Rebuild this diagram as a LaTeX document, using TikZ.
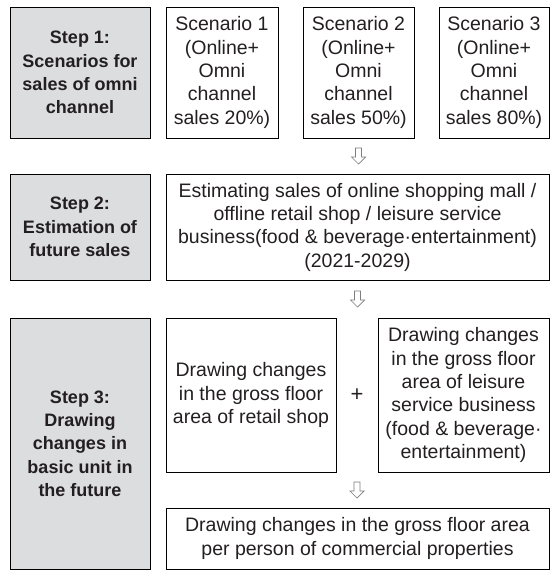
\documentclass[tikz,border=0pt]{standalone}
\usepackage{fontspec}
\setmainfont{Liberation Sans}
\usetikzlibrary{calc}
\definecolor{stepgray}{RGB}{220,221,223}
\definecolor{txt}{RGB}{35,31,32}
\definecolor{arrgray}{RGB}{125,125,125}
\begin{document}
\begin{tikzpicture}[x=1pt,y=-1pt,
  box/.style={draw=black, line width=0.8pt, align=center, inner sep=0pt, text=txt,
    font=\fontsize{19.5}{23.3}\selectfont},
  stepbox/.style={box, fill=stepgray, font=\bfseries\fontsize{18}{23.3}\selectfont},
  darr/.pic={\draw[arrgray, line width=0.7pt, fill=white]
     (-3,-8) -- (3,-8) -- (3,1) -- (7,1) -- (0,8) -- (-7,1) -- (-3,1) -- cycle;}]
\useasboundingbox (0,0) rectangle (559,581);

\node[stepbox, minimum width=140pt, minimum height=131pt] (step1) at (80,72.5)
  {Step 1:\\Scenarios for\\sales of omni\\channel};
\node[box, minimum width=112pt, minimum height=131pt] (s1) at (222,72.5)
  {Scenario 1\\(Online+\\Omni\\channel\\sales 20\%)};
\node[box, minimum width=111pt, minimum height=131pt] (s2) at (358.5,72.5)
  {Scenario 2\\(Online+\\Omni\\channel\\sales 50\%)};
\node[box, minimum width=110pt, minimum height=131pt] (s3) at (494,72.5)
  {Scenario 3\\(Online+\\Omni\\channel\\sales 80\%)};

\node[stepbox, minimum width=140pt, minimum height=106pt] (step2) at (80,227)
  {Step 2:\\Estimation of\\future sales};
\node[box, minimum width=383pt, minimum height=106pt] (est) at (357.5,227)
  {Estimating sales of online shopping mall /\\offline retail shop / leisure service\\business(food \& beverage·entertainment)\\(2021-2029)};

\node[stepbox, minimum width=140pt, minimum height=251pt] (step3) at (80,443.5)
  {Step 3:\\Drawing\\changes in\\basic unit in\\the future};
\node[box, minimum width=170pt, minimum height=154pt] (retail) at (251,395)
  {Drawing changes\\in the gross floor\\area of retail shop};
\node[box, minimum width=171pt, minimum height=154pt] (leisure) at (463.5,395)
  {Drawing changes\\in the gross floor\\area of leisure\\service business\\(food \& beverage·\\entertainment)};
\node[text=txt, font=\fontsize{22}{24}\selectfont, inner sep=0pt] (plus) at ($(retail.east)!0.5!(leisure.west)$) {+};

\node[box, minimum width=383pt, minimum height=61pt] (final) at (357.5,538.5)
  {Drawing changes in the gross floor area\\per person of commercial properties};

\coordinate (a1) at ($(s2.south)!0.5!(s2.south |- est.north)$);
\coordinate (a2) at ($(est.south)!0.5!(est.south |- leisure.north)$);
\coordinate (a3) at ($(plus |- leisure.south)!0.5!(plus |- final.north)$);
\pic at (a1) {darr};
\pic at (a2) {darr};
\pic at (a3) {darr};
\end{tikzpicture}
\end{document}
